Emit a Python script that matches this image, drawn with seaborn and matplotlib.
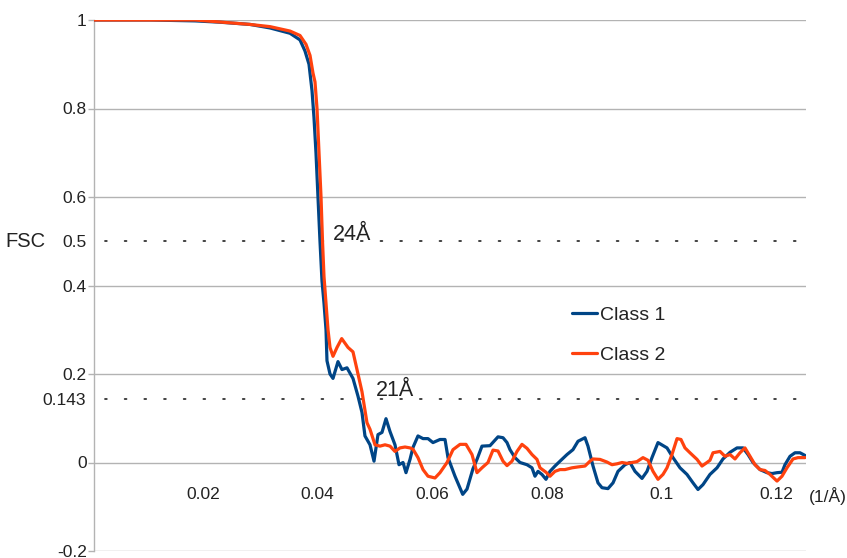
import numpy as np
import pandas as pd
import matplotlib
matplotlib.use("Agg")
import matplotlib.pyplot as plt
import seaborn as sns

# Spatial frequency (1/Å) and FSC values for each class
class1_freq = [0.00096, 0.01073, 0.01859, 0.02295, 0.02818, 0.03168, 0.03517, 0.03691,
               0.03778, 0.03848, 0.03901, 0.03935, 0.03970, 0.04005, 0.04040, 0.04075,
               0.04110, 0.04145, 0.04162, 0.04215, 0.04267, 0.04354, 0.04424, 0.04511,
               0.04616, 0.04703, 0.04773, 0.04825, 0.04913, 0.04983, 0.05052, 0.05122,
               0.05192, 0.05262, 0.05349, 0.05419, 0.05489, 0.05541, 0.05611, 0.05663,
               0.05750, 0.05838, 0.05925, 0.06012, 0.06134, 0.06222, 0.06274, 0.06396,
               0.06531, 0.06606, 0.06710, 0.06780, 0.06867, 0.07007, 0.07147, 0.07234,
               0.07304, 0.07356, 0.07443, 0.07531, 0.07653, 0.07740, 0.07792, 0.07845,
               0.07914, 0.07984, 0.08054, 0.08141, 0.08229, 0.08351, 0.08455, 0.08543,
               0.08665, 0.08717, 0.08805, 0.08892, 0.08962, 0.09066, 0.09154, 0.09241,
               0.09363, 0.09450, 0.09538, 0.09660, 0.09747, 0.09834, 0.09939, 0.10096,
               0.10201, 0.10323, 0.10445, 0.10550, 0.10637, 0.10724, 0.10846, 0.10969,
               0.11073, 0.11196, 0.11318, 0.11423, 0.11510, 0.11597, 0.11719, 0.11841,
               0.11928, 0.12016, 0.12103, 0.12155, 0.12243, 0.12330, 0.12417, 0.12504]
class1_fsc = [1.0, 1.0, 0.998, 0.995, 0.99, 0.982, 0.97, 0.955,
              0.93, 0.90, 0.84, 0.78, 0.70, 0.60, 0.50, 0.41,
              0.36, 0.30, 0.23, 0.20, 0.19, 0.228, 0.210, 0.214,
              0.19, 0.15, 0.113, 0.06, 0.04, 0.003, 0.063, 0.068,
              0.099, 0.07, 0.04, -0.005, 0.0, -0.023, 0.007, 0.034,
              0.06, 0.054, 0.054, 0.045, 0.052, 0.052, 0.011, -0.031,
              -0.072, -0.06, -0.014, 0.007, 0.037, 0.038, 0.058, 0.056,
              0.045, 0.029, 0.011, 0.0, -0.005, -0.012, -0.031, -0.02,
              -0.027, -0.038, -0.02, -0.008, 0.003, 0.018, 0.029, 0.048,
              0.056, 0.037, -0.008, -0.046, -0.057, -0.059, -0.046, -0.02,
              -0.005, 0.0, -0.02, -0.036, -0.02, 0.011, 0.045, 0.033,
              0.011, -0.012, -0.027, -0.046, -0.061, -0.05, -0.027, -0.012,
              0.008, 0.023, 0.033, 0.033, 0.018, 0.0, -0.016, -0.023,
              -0.025, -0.023, -0.022, -0.005, 0.014, 0.022, 0.022, 0.016]

class2_freq = [0.00096, 0.01859, 0.02818, 0.03168, 0.03517, 0.03691, 0.03796, 0.03866,
               0.03918, 0.03953, 0.03988, 0.04023, 0.04058, 0.04084, 0.04110, 0.04145,
               0.04180, 0.04215, 0.04267, 0.04337, 0.04419, 0.04529, 0.04616, 0.04686,
               0.04773, 0.04860, 0.04913, 0.05000, 0.05087, 0.05175, 0.05262, 0.05349,
               0.05436, 0.05524, 0.05611, 0.05663, 0.05750, 0.05838, 0.05925, 0.06047,
               0.06134, 0.06257, 0.06361, 0.06484, 0.06588, 0.06693, 0.06780, 0.06867,
               0.06972, 0.07059, 0.07147, 0.07234, 0.07304, 0.07391, 0.07478, 0.07565,
               0.07653, 0.07740, 0.07827, 0.07880, 0.07984, 0.08054, 0.08141, 0.08229,
               0.08316, 0.08438, 0.08543, 0.08665, 0.08752, 0.08805, 0.08927, 0.09049,
               0.09136, 0.09223, 0.09311, 0.09398, 0.09485, 0.09572, 0.09677, 0.09764,
               0.09852, 0.09939, 0.10026, 0.10096, 0.10183, 0.10271, 0.10340, 0.10410,
               0.10497, 0.10620, 0.10707, 0.10794, 0.10846, 0.10899, 0.11021, 0.11108,
               0.11196, 0.11283, 0.11370, 0.11457, 0.11545, 0.11632, 0.11719, 0.11806,
               0.11894, 0.12016, 0.12103, 0.12190, 0.12295, 0.12382, 0.12504]
class2_fsc = [1.0, 1.0, 0.99, 0.985, 0.975, 0.965, 0.945, 0.92,
              0.88, 0.86, 0.80, 0.70, 0.60, 0.50, 0.42, 0.36,
              0.30, 0.26, 0.24, 0.26, 0.28, 0.26, 0.25, 0.21,
              0.16, 0.09, 0.075, 0.04, 0.037, 0.04, 0.037, 0.025,
              0.033, 0.035, 0.033, 0.03, 0.011, -0.016, -0.031, -0.035,
              -0.023, 0.0, 0.029, 0.041, 0.041, 0.018, -0.023, -0.012,
              0.0, 0.028, 0.026, 0.003, -0.007, 0.003, 0.025, 0.041,
              0.032, 0.018, 0.007, -0.012, -0.022, -0.031, -0.02, -0.016,
              -0.016, -0.012, -0.01, -0.008, 0.003, 0.008, 0.007, 0.001,
              -0.005, -0.003, 0.0, -0.002, 0.0, 0.002, 0.011, 0.005,
              -0.02, -0.038, -0.027, -0.012, 0.018, 0.054, 0.052, 0.033,
              0.022, 0.007, -0.008, 0.0, 0.005, 0.022, 0.025, 0.014,
              0.018, 0.008, 0.022, 0.033, 0.014, -0.005, -0.016, -0.018,
              -0.027, -0.042, -0.031, -0.012, 0.008, 0.011, 0.011]

class_names = ["Class 1", "Class 2"]
class_colors = ["#004586", "#ff420e"]

x_ticks = [0.02, 0.04, 0.06, 0.08, 0.10, 0.12]
x_tick_labels = ["0.02", "0.04", "0.06", "0.08", "0.1", "0.12"]
y_ticks = [-0.2, 0.0, 0.2, 0.4, 0.6, 0.8, 1.0]
y_tick_labels = ["-0.2", "0", "0.2", "0.4", "0.6", "0.8", "1"]
thresholds = [0.5, 0.143]
threshold_labels = ["0.5", "0.143"]
resolution_labels = ["24Å", "21Å"]
resolution_pos = [(0.04267, 0.515), (0.05017, 0.163)]

df = pd.concat([
    pd.DataFrame({"freq": class1_freq, "fsc": class1_fsc, "cls": class_names[0]}),
    pd.DataFrame({"freq": class2_freq, "fsc": class2_fsc, "cls": class_names[1]}),
], ignore_index=True)

sns.set_style("white")
plt.rcParams["font.family"] = ["Liberation Sans", "DejaVu Sans"]
text_color = "#222222"
grid_color = "#b3b3b3"

fig = plt.figure(figsize=(8.47, 5.58), dpi=100)
ax = fig.add_axes([94 / 847, 1 - 551 / 558, 712 / 847, 531 / 558])

# horizontal grid
for yv in y_ticks:
    ax.axhline(yv, color=grid_color, lw=1.0, zorder=0)

# dotted FSC threshold lines
for yv in thresholds:
    ax.plot([0.00288, 0.12540], [yv, yv], color="#333333", lw=1.3,
            linestyle=(0, (1, 9.9)), dash_capstyle="round", zorder=1,
            clip_on=False)

sns.lineplot(data=df, x="freq", y="fsc", hue="cls", palette=class_colors,
             sort=False, estimator=None, lw=2.3, ax=ax, zorder=3)

ax.set_xlim(0.00096, 0.12522)
ax.set_ylim(-0.2, 1.0)

for s in ["top", "right"]:
    ax.spines[s].set_visible(False)
ax.spines["left"].set_color(grid_color)
ax.spines["left"].set_linewidth(1.0)
ax.spines["bottom"].set_position(("data", 0))
ax.spines["bottom"].set_visible(False)

ax.set_yticks(y_ticks)
ax.set_yticklabels(y_tick_labels)
ax.set_yticks(thresholds, minor=True)
ax.set_yticklabels(threshold_labels, minor=True)
ax.tick_params(axis="y", which="major", length=4.3, width=1.0, color=grid_color,
               pad=1, labelsize=12.5, labelcolor=text_color, left=True)
ax.tick_params(axis="y", which="minor", length=0, pad=5.5,
               labelsize=12.5, labelcolor=text_color, left=True)

ax.set_xticks(x_ticks)
ax.set_xticklabels(x_tick_labels)
ax.tick_params(axis="x", length=0, pad=17.5, labelsize=12.5, labelcolor=text_color)

ax.set_xlabel("")
ax.set_ylabel("")
ax.text(-0.0110, 0.5, "FSC", fontsize=14.5, color=text_color,
        ha="center", va="center", clip_on=False)
ax.text(0.1291, -0.075, "(1/Å)", fontsize=12.5, color=text_color,
        ha="center", va="center", clip_on=False)

for lbl, (xx, yy) in zip(resolution_labels, resolution_pos):
    ax.text(xx, yy, lbl, fontsize=15.5, color=text_color, ha="left", va="center")

leg = ax.legend(loc="upper left", bbox_to_anchor=(572 / 847, 1 - 306 / 558),
                bbox_transform=fig.transFigure, frameon=False, fontsize=14,
                handlelength=1.3, handletextpad=0.15, labelspacing=1.17,
                borderpad=0, borderaxespad=0)
for h in leg.get_lines():
    h.set_linewidth(2.3)
for t in leg.get_texts():
    t.set_color(text_color)

fig.savefig("out.png", dpi=100)
